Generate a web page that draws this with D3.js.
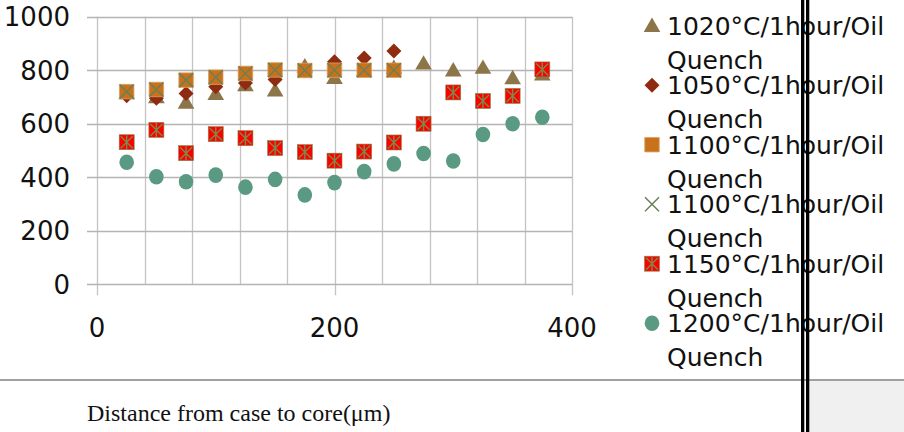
<!DOCTYPE html>
<html>
<head>
<meta charset="utf-8">
<script src="https://cdn.jsdelivr.net/npm/d3@7"></script>
<style>
  html, body { margin: 0; padding: 0; background: #fff; }
  svg { display: block; }
</style>
</head>
<body>
<svg id="chart" width="904" height="432"></svg>
<script>
// distances (um) shared by every series
const distances = [25, 50, 75, 100, 125, 150, 175, 200, 225, 250, 275, 300, 325, 350, 375];

const legendLabels = [
  '1020°C/1hour/Oil Quench',
  '1050°C/1hour/Oil Quench',
  '1100°C/1hour/Oil Quench',
  '1100°C/1hour/Oil Quench',
  '1150°C/1hour/Oil Quench',
  '1200°C/1hour/Oil Quench'
];

const hard1020 = [715, 700, 680, 712, 745, 725, 815, 772, 800, 810, 826, 800, 810, 771, 785];
const hard1050 = [705, 695, 713, 738, 752, 765, 800, 832, 846, 872];
const hard1100a = [720, 728, 763, 774, 788, 801, 799, 800, 800, 800];
const hard1100b = [720, 728, 763, 774, 788, 801, 799, 800, 800, 800];
const hard1150 = [531, 577, 490, 561, 546, 509, 494, 462, 496, 530, 600, 717, 685, 704, 803];
const hard1200 = [456, 402, 383, 408, 363, 392, 334, 380, 421, 450, 489, 461, 560, 600, 624];

const xTicks = [0, 200, 400];
const yTicks = [0, 200, 400, 600, 800, 1000];
const xAxisTitle = 'Distance from case to core(μm)';

let svg = d3.select('#chart');

let x = d3.scaleLinear().domain([0, 400]).range([97, 572]);
let y = d3.scaleLinear().domain([0, 1000]).range([284.3, 16.7]);

let sans = 'DejaVu Sans';

// grid
let grid = svg.append('g').attr('class', 'grid');

grid.selectAll('.vline')
  .data(d3.range(0, 401, 40))
  .enter().append('line')
  .attr('x1', (d) => Math.round(x(d)) + 0.5)
  .attr('x2', (d) => Math.round(x(d)) + 0.5)
  .attr('y1', y(1000))
  .attr('y2', (d) => xTicks.includes(d) ? y(0) + 11 : y(0))
  .attr('stroke', '#c4c4c4')
  .attr('stroke-width', 1.3);

grid.selectAll('.hline')
  .data(yTicks)
  .enter().append('line')
  .attr('x1', x(0) - 10)
  .attr('x2', x(400))
  .attr('y1', (d) => Math.round(y(d)) + 0.5)
  .attr('y2', (d) => Math.round(y(d)) + 0.5)
  .attr('stroke', '#b4b4b4')
  .attr('stroke-width', 1.3);

// tick labels
svg.append('g').selectAll('text')
  .data(yTicks)
  .enter().append('text')
  .attr('x', 70)
  .attr('y', (d) => y(d) + 9.5)
  .attr('text-anchor', 'end')
  .style('font-family', sans)
  .style('font-size', '26px')
  .attr('fill', '#111')
  .text((d) => d);

svg.append('g').selectAll('text')
  .data(xTicks)
  .enter().append('text')
  .attr('x', (d) => x(d))
  .attr('y', 337)
  .attr('text-anchor', 'middle')
  .style('font-family', sans)
  .style('font-size', '26px')
  .attr('fill', '#111')
  .text((d) => d);

// marker styles
const styles = [
  { sym: d3.symbolTriangle, size: 120, fill: '#8c7549', stroke: 'none', dy: 1.5 },
  { path: 'M0,-7.5L7.5,0L0,7.5L-7.5,0Z', fill: '#8e2b10' },
  { sym: d3.symbolSquare, size: 210, fill: '#c8731b', stroke: '#d9a064', dy: 0 },
  { cross: true, fill: 'none', stroke: '#6d7f55' },
  { star: true, fill: '#ff0000', stroke: '#7a8b4a' },
  { circle: true, fill: '#5a9a82' }
];

const seriesData = [hard1020, hard1050, hard1100a, hard1100b, hard1150, hard1200];

function drawMarker(g, st) {
  if (st.sym) {
    g.append('path')
      .attr('d', d3.symbol().type(st.sym).size(st.size)())
      .attr('transform', `translate(0,${st.dy})`)
      .attr('fill', st.fill)
      .attr('stroke', st.stroke)
      .attr('stroke-width', 0.8);
  } else if (st.path) {
    g.append('path')
      .attr('d', st.path)
      .attr('fill', st.fill);
  } else if (st.cross) {
    g.append('path')
      .attr('d', 'M-7,-7L7,7M-7,7L7,-7')
      .attr('stroke', st.stroke)
      .attr('stroke-width', 1.5)
      .attr('fill', 'none');
  } else if (st.star) {
    g.append('rect')
      .attr('x', -7.5).attr('y', -7.5)
      .attr('width', 15).attr('height', 15)
      .attr('fill', st.fill)
      .attr('stroke', st.stroke)
      .attr('stroke-width', 0.6);
    g.append('path')
      .attr('d', 'M-6,-6L6,6M-6,6L6,-6M0,-7L0,7')
      .attr('stroke', st.stroke)
      .attr('stroke-width', 1.4)
      .attr('fill', 'none');
  } else if (st.circle) {
    g.append('ellipse')
      .attr('rx', 7.3).attr('ry', 7.8)
      .attr('fill', st.fill);
  }
}

let points = svg.append('g').attr('class', 'points');

seriesData.forEach((vals, i) => {
  let sg = points.append('g').attr('class', `series-${i}`);
  vals.forEach((v, j) => {
    let g = sg.append('g')
      .attr('transform', `translate(${x(distances[j])},${y(v)})`);
    drawMarker(g, styles[i]);
  });
});

// legend
let legend = svg.append('g').attr('class', 'legend');

legendLabels.forEach((lab, i) => {
  let cy = 25.7 + 59.5 * i;
  let words = lab.split(' ');
  let mg = legend.append('g').attr('transform', `translate(652,${cy})`);
  drawMarker(mg, styles[i]);
  legend.append('text')
    .attr('x', 667)
    .attr('y', cy + 9)
    .style('font-family', sans)
    .style('font-size', '25px')
    .attr('fill', '#111')
    .text(words[0]);
  legend.append('text')
    .attr('x', 667)
    .attr('y', cy + 9 + 34)
    .style('font-family', sans)
    .style('font-size', '25px')
    .attr('fill', '#111')
    .text(words[1]);
});

// lower band
svg.append('rect')
  .attr('x', 809).attr('y', 381)
  .attr('width', 95).attr('height', 51)
  .attr('fill', '#f0f0f0');

svg.append('line')
  .attr('x1', 0).attr('x2', 904)
  .attr('y1', 380).attr('y2', 380)
  .attr('stroke', '#a0a0a0')
  .attr('stroke-width', 2);

svg.append('text')
  .attr('x', 87)
  .attr('y', 421)
  .style('font-family', 'Liberation Serif')
  .style('font-size', '24px')
  .attr('fill', '#111')
  .text(xAxisTitle);

// double divider
svg.append('rect').attr('x', 801).attr('y', 0).attr('width', 3.3).attr('height', 432).attr('fill', '#000');
svg.append('rect').attr('x', 806).attr('y', 0).attr('width', 3.3).attr('height', 432).attr('fill', '#000');
</script>
</body>
</html>
